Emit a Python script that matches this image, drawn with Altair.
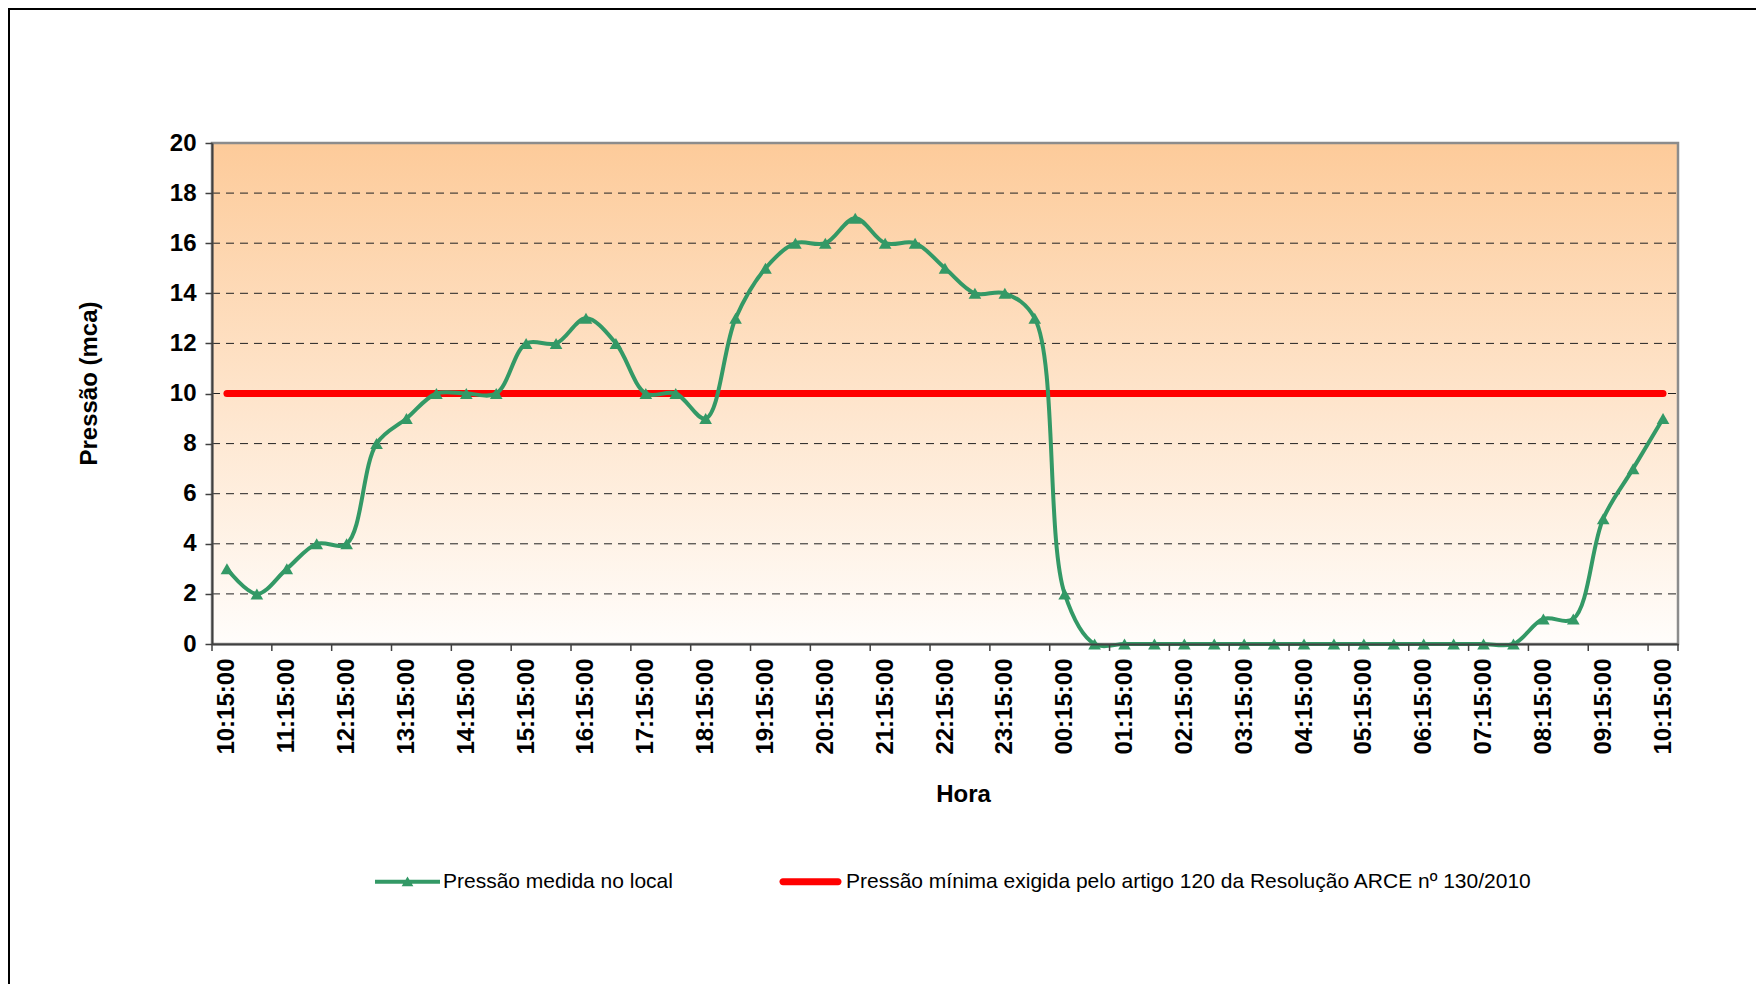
import json
import altair as alt
import pandas as pd

# ---- data ----
horas = ["10:15:00", "10:45:00", "11:15:00", "11:45:00", "12:15:00", "12:45:00", "13:15:00",
         "13:45:00", "14:15:00", "14:45:00", "15:15:00", "15:45:00", "16:15:00", "16:45:00",
         "17:15:00", "17:45:00", "18:15:00", "18:45:00", "19:15:00", "19:45:00", "20:15:00",
         "20:45:00", "21:15:00", "21:45:00", "22:15:00", "22:45:00", "23:15:00", "23:45:00",
         "00:15:00", "00:45:00", "01:15:00", "01:45:00", "02:15:00", "02:45:00", "03:15:00",
         "03:45:00", "04:15:00", "04:45:00", "05:15:00", "05:45:00", "06:15:00", "06:45:00",
         "07:15:00", "07:45:00", "08:15:00", "08:45:00", "09:15:00", "09:45:00", "10:15:00"]
pressao = [3, 2, 3, 4, 4, 8, 9, 10, 10, 10, 12, 12, 13, 12, 10, 10, 9, 13, 15, 16, 16, 17, 16,
           16, 15, 14, 14, 13, 2, 0, 0, 0, 0, 0, 0, 0, 0, 0, 0, 0, 0, 0, 0, 0, 1, 1, 5, 7, 9]
minimo = [10, 10, 10, 10, 10, 10, 10, 10, 10, 10, 10, 10, 10, 10, 10, 10, 10, 10, 10, 10, 10,
          10, 10, 10, 10, 10, 10, 10, 10, 10, 10, 10, 10, 10, 10, 10, 10, 10, 10, 10, 10, 10,
          10, 10, 10, 10, 10, 10, 10]
y_ticks = [0, 2, 4, 6, 8, 10, 12, 14, 16, 18, 20]
grid_vals = [2, 4, 6, 8, 10, 12, 14, 16, 18]
serie_medida = "Pressão medida no local"
serie_minima = "Pressão mínima exigida pelo artigo 120 da Resolução ARCE nº 130/2010"
series = [serie_medida, serie_minima]

# ---- layout ----
W, H = 1466, 501
FONT = "Liberation Sans"
GREEN = "#339966"
RED = "#FF0000"
AXC = "#404040"

df = pd.DataFrame({"idx": list(range(len(horas))), "hora": horas,
                   "pressao": pressao, "minimo": minimo})
label_idx = list(range(0, len(horas), 2))
tick_bounds = [i - 0.5 for i in label_idx] + [len(horas) - 0.5]
df_ticks = pd.DataFrame({"idx": tick_bounds})
df_grid = pd.DataFrame({"pressao": grid_vals})

x_scale = alt.Scale(domain=[-0.5, len(horas) - 0.5], nice=False, zero=False)
y_scale = alt.Scale(domain=[0, 20], nice=False)

label_expr = json.dumps(horas) + "[datum.value]"
x_axis = alt.Axis(values=label_idx, labelExpr=label_expr, labelAngle=-90, ticks=False,
                  tickSize=0, grid=False, labelFont=FONT, labelFontSize=24,
                  labelFontWeight="bold", labelColor="black", labelPadding=14,
                  domainColor=AXC, domainWidth=2, title="Hora", titleFont=FONT,
                  titleFontSize=24, titleFontWeight="bold", titleColor="black",
                  titleX=751, titleY=150, titleBaseline="middle", zindex=1)
y_axis = alt.Axis(values=y_ticks, grid=False, tickSize=7, tickColor=AXC, tickWidth=1.5,
                  labelFont=FONT, labelFontSize=24, labelFontWeight="bold",
                  labelColor="black", labelPadding=9, domainColor=AXC, domainWidth=2,
                  title="Pressão (mca)", titleFont=FONT, titleFontSize=24,
                  titleFontWeight="bold", titleColor="black", titleX=-123, titleY=240,
                  titleBaseline="middle", titleAngle=-90, zindex=1)

X = alt.X("idx:Q", scale=x_scale, axis=x_axis)

gradient = alt.Chart().mark_rect(
    color=alt.Gradient(gradient="linear",
                       stops=[alt.GradientStop(color="#FDCB9A", offset=0),
                              alt.GradientStop(color="#FFFDFB", offset=1)],
                       x1=0, x2=0, y1=0, y2=1)
).encode(x=alt.value(0), x2=alt.value(W), y=alt.value(0), y2=alt.value(H))

grid = alt.Chart(df_grid).mark_rule(color="#222222", strokeWidth=1, strokeDash=[8, 6]).encode(
    y=alt.Y("pressao:Q", scale=y_scale, axis=y_axis), x=alt.value(0), x2=alt.value(W))

border = alt.Chart().mark_rect(filled=False, stroke="#8c8c8c", strokeWidth=2.5).encode(
    x=alt.value(0), x2=alt.value(W), y=alt.value(0), y2=alt.value(H))

red_line = alt.Chart(df).mark_line(color=RED, strokeWidth=7, strokeCap="round").encode(
    x=X, y=alt.Y("minimo:Q", scale=y_scale, axis=y_axis))

green_line = alt.Chart(df).mark_line(
    color=GREEN, strokeWidth=4, interpolate="catmull-rom",
    point=alt.OverlayMarkDef(shape="triangle-up", filled=True, size=160, color=GREEN, opacity=1)
).encode(x=X, y=alt.Y("pressao:Q", scale=y_scale, axis=y_axis))

x_ticks = alt.Chart(df_ticks).mark_rule(color=AXC, strokeWidth=1.5).encode(
    x=X, y=alt.value(H), y2=alt.value(H + 7))

path_green = ("M-1,-0.062L1,-0.062L1,0.062L-1,0.062Z"
              "M-0.18,0.14L0,-0.16L0.18,0.14Z")
path_red = ("M-0.85,-0.105L0.85,-0.105A0.105,0.105 0 0 1 0.85,0.105"
            "L-0.85,0.105A0.105,0.105 0 0 1 -0.85,-0.105Z")
leg = alt.Legend(title=None, orient="none", legendX=163, legendY=706, direction="horizontal",
                 symbolSize=4225, symbolStrokeWidth=0, symbolOpacity=1, labelFont=FONT,
                 labelFontSize=21, labelColor="black", labelOffset=3, columnPadding=105,
                 labelLimit=1000, padding=0)
legend_layer = alt.Chart(pd.DataFrame({"serie": series})).transform_filter("false").mark_point(
    filled=True, opacity=1, size=4225).encode(
    color=alt.Color("serie:N", scale=alt.Scale(domain=series, range=[GREEN, RED]), legend=leg),
    shape=alt.Shape("serie:N", scale=alt.Scale(domain=series, range=[path_green, path_red]),
                    legend=leg))

frame_left = alt.Chart().mark_rule(color="black", strokeWidth=2).encode(
    x=alt.value(-203), y=alt.value(-135), y2=alt.value(H + 340))
frame_top = alt.Chart().mark_rule(color="black", strokeWidth=2).encode(
    x=alt.value(-204), x2=alt.value(W + 78), y=alt.value(-134))

chart = alt.layer(
    gradient, grid, border, red_line, green_line, x_ticks, legend_layer, frame_left, frame_top
).properties(
    width=W, height=H,
    autosize=alt.AutoSizeParams(type="none"),
    padding={"left": 204, "top": 135, "right": 78, "bottom": 340},
    background="white",
).configure_view(strokeWidth=0)

chart.save("out.html", embed_options={"renderer": "svg", "actions": False})
